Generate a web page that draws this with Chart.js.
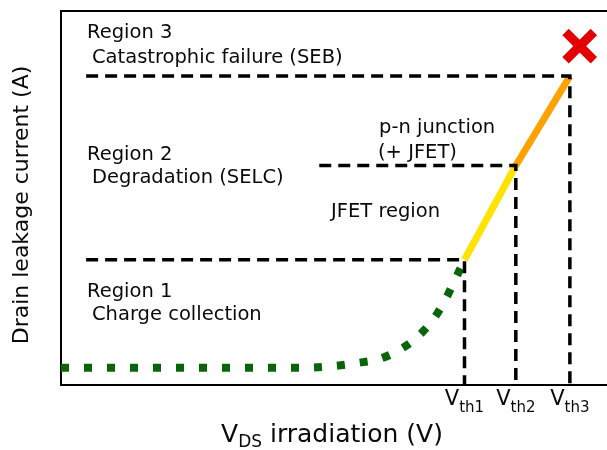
<!DOCTYPE html>
<html>
<head>
<meta charset="utf-8">
<script src="https://cdn.jsdelivr.net/npm/chart.js@4.4.1/dist/chart.umd.min.js"></script>
<style>
  html, body { margin: 0; padding: 0; background: #fff; overflow: hidden; }
  #wrap { width: 607px; height: 450px; }
</style>
</head>
<body>
<div id="wrap"><canvas id="chart"></canvas></div>
<script>
// schematic units: x 0..100 (V), y 0..100 (leakage current)
const thresholds = [73.9, 83.3, 93.2];          // Vth1, Vth2, Vth3
const thresholdLabels = ['th1', 'th2', 'th3'];
const levels = [33.5, 58.7, 82.6];              // region 1, 2, 3 current levels
const levelStart = [4.6, 47.3, 4.6];            // where each dashed level starts

// charge collection (dotted green)
const chargeX = [0, 7, 25, 44, 50.1, 54.3, 58.2, 62, 65.1, 68.1, 70.1, 72.1, 73.9];
const chargeY = [4.6, 4.6, 4.6, 4.6, 5.1, 5.9, 6.9, 9.4, 12.6, 17.4, 22, 27.9, 33.5];

const failurePoint = { x: 95, y: 90.6 };

const regionTexts = [
    ['Region 3', 87, 38],
    ['Catastrophic failure (SEB)', 92, 63],
    ['p-n junction', 379, 133],
    ['(+ JFET)', 378, 158],
    ['Region 2', 87, 160],
    ['Degradation (SELC)', 92, 183],
    ['JFET region', 331, 217],
    ['Region 1', 87, 297],
    ['Charge collection', 92, 320]
];

function pts(xs, ys) {
    return xs.map((x, i) => ({ x: x, y: ys[i] }));
}

let datasets = [];
for (let i = 0; i < 3; i++) {
    datasets.push({
        label: 'level' + (i + 1),
        data: [
            { x: levelStart[i], y: levels[i] },
            { x: thresholds[i], y: levels[i] },
            { x: thresholds[i], y: 0 }
        ],
        borderColor: '#000',
        borderWidth: 3.5,
        borderDash: [12, 7],
        pointRadius: 0,
        tension: 0
    });
}
datasets.push({
    label: 'Charge collection',
    data: pts(chargeX, chargeY),
    borderColor: '#0a650a',
    borderWidth: 8,
    borderDash: [8, 15],
    borderCapStyle: 'butt',
    pointRadius: 0,
    cubicInterpolationMode: 'monotone'
});
datasets.push({
    label: 'JFET region',
    data: [{ x: thresholds[0], y: levels[0] }, { x: thresholds[1], y: levels[1] }],
    borderColor: '#ffe300',
    borderWidth: 7,
    pointRadius: 0
});
datasets.push({
    label: 'p-n junction',
    data: [{ x: thresholds[1], y: levels[1] }, { x: thresholds[2], y: levels[2] }],
    borderColor: '#ffa200',
    borderWidth: 7,
    pointRadius: 0
});
datasets.push({
    label: 'SEB',
    data: [failurePoint],
    showLine: false,
    pointStyle: 'crossRot',
    pointRadius: 20,
    borderWidth: 9,
    borderColor: '#e40000',
    backgroundColor: '#e40000'
});

const FONT = '"DejaVu Sans", Verdana, sans-serif';

const textPlugin = {
    id: 'texts',
    beforeDatasetsDraw(chart) {
        // top edge of the frame
        const a = chart.chartArea;
        const ctx = chart.ctx;
        ctx.save();
        ctx.strokeStyle = '#000';
        ctx.lineWidth = 2;
        ctx.beginPath();
        ctx.moveTo(a.left - 1, a.top);
        ctx.lineTo(a.right, a.top);
        ctx.stroke();
        ctx.restore();
    },
    afterDraw(chart) {
        const ctx = chart.ctx;
        const xs = chart.scales.x;
        ctx.save();
        ctx.fillStyle = '#0a0a0a';
        ctx.textBaseline = 'alphabetic';
        ctx.textAlign = 'left';
        ctx.font = '19.5px ' + FONT;
        regionTexts.forEach(t => ctx.fillText(t[0], t[1], t[2]));

        // threshold labels under the axis
        thresholds.forEach((v, i) => {
            const cx = xs.getPixelForValue(v);
            ctx.font = '21px ' + FONT;
            const w1 = ctx.measureText('V').width;
            ctx.font = '15px ' + FONT;
            const w2 = ctx.measureText(thresholdLabels[i]).width;
            let x0 = cx - (w1 + w2) / 2;
            ctx.font = '21px ' + FONT;
            ctx.fillText('V', x0, 405);
            ctx.font = '15px ' + FONT;
            ctx.fillText(thresholdLabels[i], x0 + w1, 412);
        });

        // x axis title
        ctx.font = '25px ' + FONT;
        const a = ctx.measureText('V').width;
        const c = ctx.measureText(' irradiation (V)').width;
        ctx.font = '17px ' + FONT;
        const b = ctx.measureText('DS').width;
        let x0 = 332 - (a + b + c) / 2;
        ctx.font = '25px ' + FONT;
        ctx.fillText('V', x0, 442);
        ctx.font = '17px ' + FONT;
        ctx.fillText('DS', x0 + a, 447);
        ctx.font = '25px ' + FONT;
        ctx.fillText(' irradiation (V)', x0 + a + b, 442);

        // y axis title
        ctx.translate(28, 205);
        ctx.rotate(-Math.PI / 2);
        ctx.textAlign = 'center';
        ctx.font = '22px ' + FONT;
        ctx.fillText('Drain leakage current (A)', 0, 0);
        ctx.restore();
    }
};

const hidden = { display: false };

new Chart(document.getElementById('chart'), {
    type: 'line',
    data: { datasets: datasets },
    options: {
        responsive: true,
        maintainAspectRatio: false,
        animation: false,
        layout: { autoPadding: false, padding: { left: 61, top: 11, right: 0, bottom: 65 } },
        plugins: { legend: hidden, tooltip: { enabled: false } },
        scales: {
            x: {
                type: 'linear', min: 0, max: 100,
                ticks: hidden,
                grid: { display: false, drawTicks: false },
                border: { display: true, color: '#000', width: 2 }
            },
            y: {
                type: 'linear', min: 0, max: 100,
                ticks: hidden,
                grid: { display: false, drawTicks: false },
                border: { display: true, color: '#000', width: 2 }
            }
        }
    },
    plugins: [textPlugin]
});
</script>
</body>
</html>
